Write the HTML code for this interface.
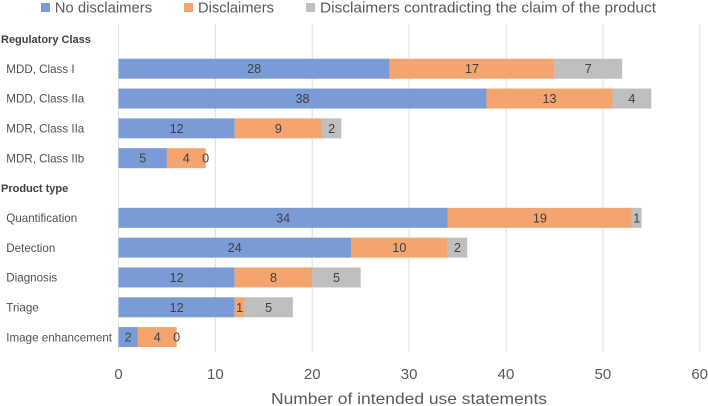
<!DOCTYPE html>
<html lang="en">
<head>
<meta charset="utf-8">
<title>Number of intended use statements</title>
<style>
  html, body { margin: 0; padding: 0; background: #fff; }
  body { width: 708px; height: 406px; overflow: hidden; }
  svg { display: block; font-family: "Liberation Sans", sans-serif; filter: blur(0.3px); }
</style>
</head>
<body>
<svg id="chart" width="708" height="406" viewBox="0 0 708 406" xmlns="http://www.w3.org/2000/svg">
  <g id="gridlines"></g>
  <g id="bars"></g>
  <g id="categories"></g>
  <g id="ticks"></g>
  <g>
    <rect x="41" y="3" width="9" height="9" fill="#7a9bd6"></rect>
    <text x="54.7" y="12.5" font-size="15" fill="#595959" textLength="97.5" lengthAdjust="spacingAndGlyphs">No disclaimers</text>
    <rect x="184" y="3" width="9" height="9" fill="#f3a46f"></rect>
    <text x="198" y="12.5" font-size="15" fill="#595959" textLength="76" lengthAdjust="spacingAndGlyphs">Disclaimers</text>
    <rect x="306" y="3" width="9" height="9" fill="#bfbfbf"></rect>
    <text x="320" y="12.5" font-size="15" fill="#595959" textLength="336" lengthAdjust="spacingAndGlyphs">Disclaimers contradicting the claim of the product</text>
  </g>
  <text x="271" y="404" font-size="16" fill="#595959" textLength="276" lengthAdjust="spacingAndGlyphs">Number of intended use statements</text>
</svg>
<script>
const categories = ["Regulatory Class", "MDD, Class I", "MDD, Class IIa", "MDR, Class IIa", "MDR, Class IIb", "Product type", "Quantification", "Detection", "Diagnosis", "Triage", "Image enhancement"];
const noDisclaimers = [null, 28, 38, 12, 5, null, 34, 24, 12, 12, 2];
const disclaimers = [null, 17, 13, 9, 4, null, 19, 10, 8, 1, 4];
const contradicting = [null, 7, 4, 2, 0, null, 1, 2, 5, 5, 0];
const xTicks = [0, 10, 20, 30, 40, 50, 60];

const NS = "http://www.w3.org/2000/svg";
const plot = { left: 118.5, right: 699.7, top: 24, bottom: 352 };
const xMax = 60;
const bandH = (plot.bottom - plot.top) / categories.length;
const barH = 20;
const seriesColors = ["#7a9bd6", "#f3a46f", "#bfbfbf"];
const seriesNames = ["no-disclaimers", "disclaimers", "contradicting"];
const seriesValues = [noDisclaimers, disclaimers, contradicting];

function xScale(v) { return plot.left + (v / xMax) * (plot.right - plot.left); }
function yCenter(i) { return plot.top + bandH * (i + 0.5); }
function make(tag, attrs, parent, text) {
  const el = document.createElementNS(NS, tag);
  for (const k in attrs) el.setAttribute(k, attrs[k]);
  if (text !== undefined) el.textContent = text;
  parent.appendChild(el);
  return el;
}

const gridG = document.getElementById("gridlines");
const tickG = document.getElementById("ticks");
xTicks.forEach(function (t) {
  const line = make("line", { x1: xScale(t), x2: xScale(t), y1: plot.top, y2: plot.bottom, stroke: "#e4e4e4", "stroke-width": 1.2 }, gridG);
  
  
  const label = make("text", { x: xScale(t), y: 379, "text-anchor": "middle", "font-size": 15, fill: "#595959" }, tickG, t);
  
  
});

const catG = document.getElementById("categories");
categories.forEach(function (name, i) {
  const isHeader = noDisclaimers[i] === null;
  const label = make("text", {
    x: isHeader ? 1 : 6.3,
    y: yCenter(i) + 4.2,
    "font-size": isHeader ? 11 : 11.6,
    "font-weight": isHeader ? "bold" : "normal",
    fill: isHeader ? "#404040" : "#505050"
  }, catG, name);
  
  
});

const barG = document.getElementById("bars");
categories.forEach(function (name, i) {
  if (noDisclaimers[i] === null) return;
  let cum = 0;
  seriesValues.forEach(function (series, s) {
    const v = series[i];
    const x0 = xScale(cum);
    const x1 = xScale(cum + v);
    if (v > 0) {
      const seg = make("rect", { x: x0, y: yCenter(i) - barH / 2, width: x1 - x0, height: barH, fill: seriesColors[s] }, barG);
      
      
    }
    const val = make("text", {
      x: (x0 + x1) / 2,
      y: yCenter(i) + 4.5,
      "text-anchor": "middle",
      "font-size": 12.6,
      fill: "#404040"
    }, barG, v);
    
    
    cum += v;
  });
});
</script>
</body>
</html>
